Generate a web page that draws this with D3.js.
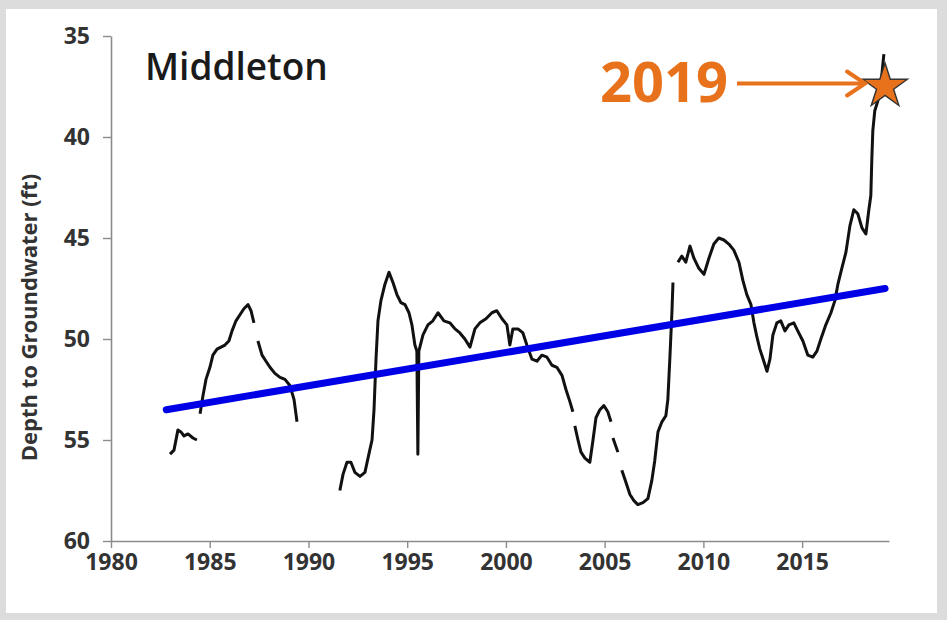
<!DOCTYPE html>
<html>
<head>
<meta charset="utf-8">
<script src="https://cdn.jsdelivr.net/npm/d3@7"></script>
<style>
	html, body { margin: 0; padding: 0; background: #dcdcdc; }
	svg { display: block; }
	.tick text { font-family: 'Open Sans', sans-serif; font-weight: 700; fill: #333; }
</style>
</head>
<body>
<div id="chart"></div>
<script>
// DATA, null = gap in the record
var years = [
	1982.99, 1983.19, 1983.39, 1983.54, 1983.70, 1983.90, 1984.15, 1984.35, null,
	1984.51, 1984.66, 1984.81, 1985.01, 1985.16, 1985.37, 1985.57, 1985.77, 1985.97, 1986.13,
	1986.33, 1986.53, 1986.73, 1986.94, 1987.09, 1987.24, null,
	1987.44, 1987.65, 1987.85, 1988.05, 1988.30, 1988.56, 1988.81, 1989.06, 1989.27, 1989.42, null,
	1991.59, 1991.75, 1991.95, 1992.15, 1992.35, 1992.61, 1992.86, 1993.06, 1993.22, 1993.32,
	1993.42, 1993.52, 1993.67, 1993.87, 1994.08, 1994.28, 1994.48, 1994.68, 1994.89, 1995.09,
	1995.24, 1995.39, 1995.49, 1995.54, 1995.59, 1995.80, 1996.05, 1996.30, 1996.56, 1996.86,
	1997.16, 1997.42, 1997.67, 1997.92, 1998.18, 1998.43, 1998.68, 1998.99, 1999.29, 1999.54,
	1999.80, 2000.05, 2000.20, 2000.35, 2000.61, 2000.86, 2001.06, 2001.32, 2001.57, 2001.82,
	2002.08, 2002.33, 2002.58, 2002.84, 2003.04, 2003.24, 2003.39, null,
	2003.49, 2003.65, 2003.80, 2004.00, 2004.25, 2004.41, 2004.56, 2004.76, 2004.96, 2005.16, 2005.32, null,
	2005.42, 2005.67, null,
	2005.87, 2006.08, 2006.28, 2006.48, 2006.68, 2006.94, 2007.19, 2007.39, 2007.54, 2007.70,
	2007.90, 2008.10, 2008.20, 2008.30, 2008.41, 2008.46, null,
	2008.71, 2008.91, 2009.11, 2009.32, 2009.52, 2009.77, 2010.03, 2010.28, 2010.53, 2010.78,
	2011.04, 2011.29, 2011.54, 2011.80, 2012.00, 2012.20, 2012.41, 2012.56, 2012.71, 2012.86,
	2013.06, 2013.22, 2013.37, 2013.52, 2013.72, 2013.92, 2014.13, 2014.33, 2014.58, 2014.78,
	2015.04, 2015.29, 2015.54, 2015.75, 2015.95, 2016.20, 2016.46, 2016.66, 2016.81, 2017.01,
	2017.22, 2017.42, 2017.62, 2017.82, 2018.03, 2018.23, 2018.38, 2018.48, 2018.53, 2018.58,
	2018.68, 2018.84, 2018.99, 2019.14
];
var depth = [
	55.7, 55.5, 54.5, 54.6, 54.8, 54.7, 54.9, 55.0, null,
	53.7, 52.8, 52.0, 51.4, 50.8, 50.5, 50.4, 50.3, 50.1, 49.6,
	49.1, 48.8, 48.5, 48.3, 48.6, 49.2, null,
	50.1, 50.8, 51.1, 51.4, 51.7, 51.9, 52.0, 52.3, 53.0, 54.1, null,
	57.5, 56.7, 56.1, 56.1, 56.6, 56.8, 56.6, 55.7, 55.0, 53.5,
	51.0, 49.1, 48.1, 47.3, 46.7, 47.2, 47.8, 48.2, 48.3, 48.7,
	49.3, 50.3, 50.6, 55.7, 50.6, 49.8, 49.3, 49.1, 48.7, 49.1,
	49.2, 49.5, 49.7, 50.0, 50.4, 49.5, 49.2, 49.0, 48.7, 48.6,
	49.0, 49.3, 50.3, 49.5, 49.5, 49.7, 50.3, 51.0, 51.1, 50.8,
	50.9, 51.3, 51.4, 51.8, 52.5, 53.1, 53.6, null,
	54.3, 55.0, 55.6, 55.9, 56.1, 55.0, 53.9, 53.5, 53.3, 53.6, 54.1, null,
	54.9, 55.6, null,
	56.5, 57.1, 57.7, 58.0, 58.2, 58.1, 57.9, 57.0, 56.0, 54.6,
	54.1, 53.8, 53.0, 51.0, 48.6, 47.2, null,
	46.2, 45.9, 46.2, 45.4, 46.0, 46.5, 46.8, 46.0, 45.3, 45.0,
	45.1, 45.3, 45.6, 46.2, 47.1, 47.8, 48.3, 49.2, 49.9, 50.5,
	51.1, 51.6, 51.0, 49.8, 49.2, 49.1, 49.6, 49.3, 49.2, 49.6,
	50.1, 50.8, 50.9, 50.6, 50.0, 49.3, 48.7, 48.1, 47.3, 46.5,
	45.7, 44.4, 43.6, 43.8, 44.5, 44.8, 43.6, 42.9, 41.1, 39.7,
	38.7, 38.2, 37.4, 35.9
];
var trendYears = [1982.8, 2019.2];
var trendDepth = [53.5, 47.5];
var xTicks = [1980, 1985, 1990, 1995, 2000, 2005, 2010, 2015];
var yTicks = [35, 40, 45, 50, 55, 60];
var starYear = 2019.2;
var starDepth = 37.5;
var titleText = 'Middleton';
var calloutText = '2019';
var yTitle = 'Depth to Groundwater (ft)';

(function(window, d3){
	'use strict';

	var W = 947, H = 620;
	var orange = '#e8711c';
	var margin = { top: 36, left: 111, right: 58, bot: 79 };
	var width = W - margin.left - margin.right;
	var height = H - margin.top - margin.bot;

	var svg = d3.select('#chart').append('svg')
		.attr('width', W)
		.attr('height', H);

	// white panel on grey page
	svg.append('rect')
		.attr('x', 6).attr('y', 9)
		.attr('width', 931).attr('height', 604)
		.attr('fill', '#fff');

	var g = svg.append('g')
		.attr('transform', 'translate(' + margin.left + ',' + margin.top + ')');

	var xScale = d3.scaleLinear().domain([1980, 2019.4]).range([0, width]);
	var yScale = d3.scaleLinear().domain([35, 60]).range([0, height]);

	drawAxes();
	drawSeries();
	drawLabels();

	function drawAxes(){
		var xAxis = d3.axisBottom(xScale)
			.tickValues(xTicks)
			.tickFormat(d3.format('d'))
			.tickSizeInner(7)
			.tickSizeOuter(0)
			.tickPadding(6);
		var yAxis = d3.axisLeft(yScale)
			.tickValues(yTicks)
			.tickSizeInner(8)
			.tickSizeOuter(0)
			.tickPadding(13);

		var gx = g.append('g')
			.attr('class', 'x axis')
			.attr('transform', 'translate(0,' + height + ')')
			.call(xAxis);
		var gy = g.append('g')
			.attr('class', 'y axis')
			.call(yAxis);

		[gx, gy].forEach(function(ax){
			ax.select('.domain').attr('stroke', '#8c8c8c').attr('stroke-width', 1.6);
			ax.selectAll('.tick line').attr('stroke', '#8c8c8c').attr('stroke-width', 1.4);
			ax.selectAll('.tick text').attr('font-size', 23);
		});
	}

	function drawSeries(){
		var pts = years.map(function(d, i){ return [d, depth[i]]; });
		var line = d3.line()
			.defined(function(d){ return d[0] !== null && d[1] !== null; })
			.x(function(d){ return xScale(d[0]); })
			.y(function(d){ return yScale(d[1]); });

		g.append('path')
			.datum(pts)
			.attr('d', line)
			.attr('fill', 'none')
			.attr('stroke', '#111')
			.attr('stroke-width', 3)
			.attr('stroke-linejoin', 'round');

		// linear trend
		g.append('path')
			.datum(trendYears.map(function(d, i){ return [d, trendDepth[i]]; }))
			.attr('d', line)
			.attr('fill', 'none')
			.attr('stroke', '#0000e6')
			.attr('stroke-width', 7)
			.attr('stroke-linecap', 'round');

		// 2019 star
		g.append('path')
			.attr('d', d3.symbol().type(d3.symbolStar).size(620)())
			.attr('transform', 'translate(' + xScale(starYear) + ',' + yScale(starDepth) + ')')
			.attr('fill', orange)
			.attr('stroke', '#333')
			.attr('stroke-width', 1.4);

		// callout arrow
		var ay = yScale(starDepth) - 3;
		var ax2 = xScale(starYear) - 20;
		g.append('line')
			.attr('x1', 626).attr('x2', ax2)
			.attr('y1', ay).attr('y2', ay)
			.attr('stroke', orange).attr('stroke-width', 4);
		g.append('path')
			.attr('d', 'M' + (ax2 - 18) + ',' + (ay - 12) + 'L' + ax2 + ',' + ay + 'L' + (ax2 - 18) + ',' + (ay + 12))
			.attr('fill', 'none')
			.attr('stroke', orange)
			.attr('stroke-width', 4)
			.attr('stroke-linecap', 'round');
	}

	function drawLabels(){
		g.append('text')
			.text(titleText)
			.attr('x', 34).attr('y', 44)
			.attr('font-family', "'Open Sans', sans-serif")
			.attr('font-weight', 600)
			.attr('font-size', 37)
			.attr('fill', '#1a1a1a');

		g.append('text')
			.text(calloutText)
			.attr('x', 617).attr('y', 66)
			.attr('text-anchor', 'end')
			.attr('font-family', "'Open Sans', sans-serif")
			.attr('font-weight', 700)
			.attr('font-size', 56)
			.attr('fill', orange);

		svg.append('text')
			.text(yTitle)
			.attr('transform', 'translate(37,' + (margin.top + height / 2 + 29) + ') rotate(-90)')
			.attr('text-anchor', 'middle')
			.attr('font-family', "'Open Sans', sans-serif")
			.attr('font-weight', 700)
			.attr('font-size', 22)
			.attr('fill', '#333');
	}

})(window, d3);
</script>
</body>
</html>
